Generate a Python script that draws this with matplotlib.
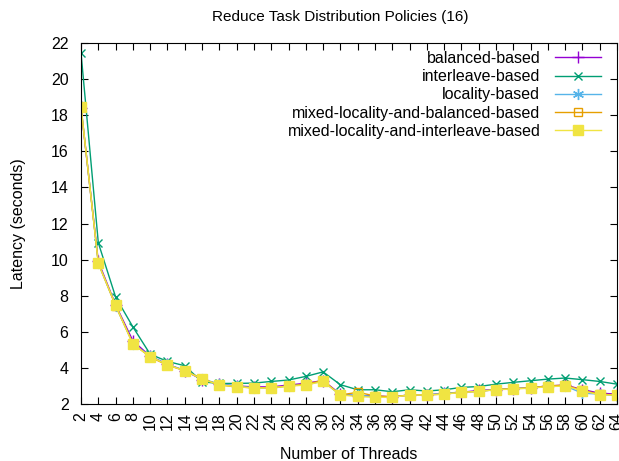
import matplotlib
matplotlib.use('Agg')
import matplotlib.pyplot as plt

plt.rcParams['font.family'] = ['Liberation Sans', 'DejaVu Sans']

threads = list(range(2, 65, 2))
balanced = [18.4, 9.9, 7.5, 5.5, 4.65, 4.2, 3.85, 3.35, 3.1, 3.0, 2.95, 2.95, 3.05, 3.15, 3.3, 2.55,
            2.45, 2.45, 2.4, 2.5, 2.5, 2.6, 2.65, 2.75, 2.8, 2.85, 2.9, 3.0, 3.05, 2.8, 2.6, 2.55]
interleave = [21.45, 10.93, 7.93, 6.27, 4.76, 4.36, 4.12, 3.23, 3.14, 3.14, 3.16, 3.25, 3.33, 3.53, 3.78, 3.07,
              2.79, 2.79, 2.68, 2.79, 2.72, 2.79, 2.92, 2.97, 3.10, 3.20, 3.29, 3.38, 3.44, 3.35, 3.25, 3.10]
locality = [18.5, 9.8, 7.45, 5.35, 4.65, 4.2, 3.85, 3.4, 3.1, 3.0, 2.9, 2.9, 3.0, 3.1, 3.25, 2.5,
            2.5, 2.4, 2.4, 2.5, 2.5, 2.6, 2.65, 2.7, 2.8, 2.85, 2.9, 3.0, 3.0, 2.6, 2.55, 2.45]
mixed_balanced = [18.45, 9.8, 7.45, 5.35, 4.6, 4.15, 3.85, 3.4, 3.05, 2.95, 2.9, 2.9, 3.0, 3.1, 3.3, 2.5,
                  2.65, 2.45, 2.4, 2.5, 2.5, 2.55, 2.65, 2.7, 2.8, 2.85, 2.9, 3.0, 3.05, 2.75, 2.55, 2.5]
mixed_interleave = [18.48, 9.79, 7.47, 5.31, 4.63, 4.17, 3.84, 3.38, 3.07, 2.96, 2.88, 2.90, 2.99, 3.05, 3.25, 2.50,
                    2.42, 2.37, 2.37, 2.50, 2.50, 2.55, 2.64, 2.70, 2.79, 2.83, 2.88, 2.96, 3.00, 2.74, 2.50, 2.50]

fs = 11.5
fig = plt.figure(figsize=(6.19, 4.61), dpi=100)
ax = fig.add_axes([0.1309, 0.1236, 0.8659, 0.7831])

ax.plot(threads, balanced, color='#9400d3', lw=1, marker='+', ms=8, label='balanced-based')
ax.plot(threads, interleave, color='#009e73', lw=1, marker='x', ms=6, label='interleave-based')
ax.plot(threads, locality, color='#56b4e9', lw=1, marker=(6, 2, 0), ms=8, label='locality-based')
ax.plot(threads, mixed_balanced, color='#e69f00', lw=1, marker='s', ms=6, mfc='none', label='mixed-locality-and-balanced-based')
ax.plot(threads, mixed_interleave, color='#f0e442', lw=1, marker='s', ms=7, label='mixed-locality-and-interleave-based')

ax.set_xlim(2, 64)
ax.set_ylim(2, 22)
ax.set_xticks(threads)
ax.set_xticklabels([str(t) for t in threads], rotation=90)
ax.set_yticks(range(2, 23, 2))
ax.tick_params(direction='in', top=True, right=True, labelsize=fs, length=5)
ax.tick_params(axis='y', pad=9)
ax.tick_params(axis='x', pad=6)
ax.set_xlabel('Number of Threads', fontsize=fs, labelpad=12)
ax.set_ylabel('Latency (seconds)', fontsize=fs, labelpad=18)
ax.set_title('Reduce Task Distribution Policies (16)', fontsize=11, pad=16, x=0.483)

ax.legend(loc='upper right', markerfirst=False, frameon=False, fontsize=fs,
          handlelength=2.9, handletextpad=0.9, labelspacing=0.2,
          borderaxespad=0.1, bbox_to_anchor=(0.985, 1.0))

fig.savefig('out.png', dpi=100)
